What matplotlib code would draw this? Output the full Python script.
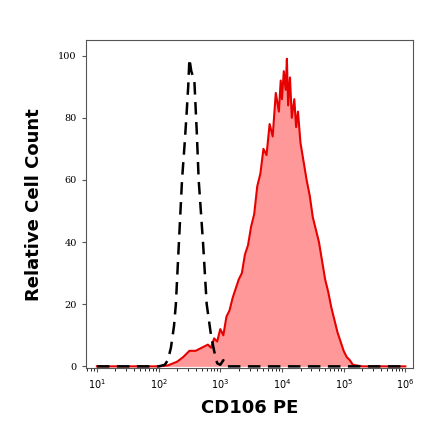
import matplotlib
matplotlib.use("Agg")
import matplotlib.pyplot as plt
import numpy as np

# log10 positions and counts
red_log = [1.0, 2.0, 2.15, 2.3, 2.4, 2.5, 2.6, 2.7, 2.8, 2.85, 2.9, 2.95, 3.0, 3.05, 3.1, 3.15,
           3.2, 3.25, 3.3, 3.35, 3.4, 3.45, 3.5, 3.55, 3.6, 3.65, 3.7, 3.75, 3.8, 3.85, 3.9,
           3.95, 3.98, 4.0, 4.03, 4.06, 4.08, 4.1, 4.13, 4.16, 4.2, 4.23, 4.26, 4.3, 4.35, 4.4,
           4.45, 4.5, 4.55, 4.6, 4.65, 4.7, 4.75, 4.8, 4.85, 4.9, 4.95, 5.0, 5.05, 5.1, 5.15, 5.3, 6.0]
red_cnt = [0, 0, 0.3, 1.5, 3, 5, 5, 6, 7, 6, 9, 8, 12, 10, 16, 18,
           22, 25, 28, 30, 36, 39, 45, 49, 58, 62, 70, 68, 78, 74, 88,
           82, 92, 86, 95, 89, 99, 84, 93, 80, 86, 77, 82, 72, 66, 60,
           55, 48, 44, 40, 34, 28, 24, 19, 15, 11, 8, 5, 3, 2, 0.5, 0, 0]

ctrl_log = [1.0, 2.0, 2.1, 2.15, 2.2, 2.25, 2.28, 2.33, 2.38, 2.42, 2.45, 2.48, 2.5, 2.53,
            2.58, 2.62, 2.65, 2.72, 2.78, 2.85, 2.9, 2.95, 3.0, 3.05, 3.1, 6.0]
ctrl_cnt = [0, 0, 0.5, 2, 6, 13, 20, 40, 60, 71, 80, 90, 99, 95,
            92, 75, 60, 40, 20, 10, 5, 1, 0.5, 2, 0, 0]

x_ticks = [10, 100, 1000, 1e4, 1e5, 1e6]
x_labels = [r"$10^{1}$", r"$10^{2}$", r"$10^{3}$", r"$10^{4}$", r"$10^{5}$", r"$10^{6}$"]
y_ticks = [0, 20, 40, 60, 80, 100]

fig = plt.figure(figsize=(4.4, 4.41), dpi=100)
ax = fig.add_axes([0.195, 0.165, 0.743, 0.744])

rx = 10 ** np.array(red_log)
cx = 10 ** np.array(ctrl_log)
ax.fill_between(rx, red_cnt, color="#ff9999", lw=0)
ax.plot(rx, red_cnt, color="#e60000", lw=1.5)
ax.plot(cx, ctrl_cnt, color="black", lw=1.8, ls=(0, (5, 3)))

ax.set_xscale("log")
ax.set_xlim(10 ** 0.82, 10 ** 6.12)
ax.set_ylim(-0.6, 105)
ax.set_xticks(x_ticks)
ax.set_xticklabels(x_labels)
ax.set_yticks(y_ticks)
for lab in ax.get_xticklabels() + ax.get_yticklabels():
    lab.set_fontfamily("DejaVu Serif")
    lab.set_fontsize(7)
ax.tick_params(length=3, width=0.8, color="#555555")
for s in ax.spines.values():
    s.set_color("#555555")
    s.set_linewidth(0.8)

ax.set_xlabel("CD106 PE", fontsize=13, fontweight="bold", labelpad=6)
ax.set_ylabel("Relative Cell Count", fontsize=13, fontweight="bold", labelpad=11)

fig.savefig("out.png", dpi=100)
